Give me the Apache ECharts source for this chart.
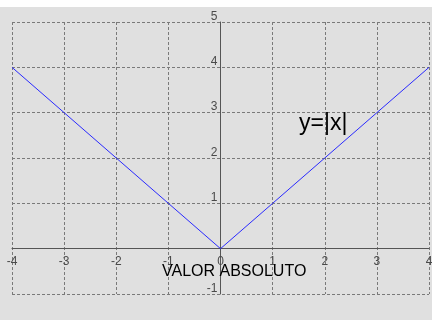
<!DOCTYPE html>
<html>
<head>
<meta charset="utf-8">
<script src="https://cdn.jsdelivr.net/npm/echarts@6/dist/echarts.min.js"></script>
<style>
html,body{margin:0;padding:0;background:#ffffff;}
#chart{position:absolute;left:0;top:7px;width:432px;height:313px;}
</style>
</head>
<body>
<div id="chart"></div>
<script>
const xValues = [-4, -3, -2, -1, 0, 1, 2, 3, 4];
const yValues = [4, 3, 2, 1, 0, 1, 2, 3, 4];
const xTicks = [-4, -3, -2, -1, 0, 1, 2, 3, 4];
const yTicks = [-1, 0, 1, 2, 3, 4, 5];
const curveLabel = 'y=|x|';
const axisTitle = 'VALOR ABSOLUTO';

const chart = echarts.init(document.getElementById('chart'), null, {renderer: 'canvas'});
const labelFont = {color: '#4a4a4a', fontSize: 12, fontFamily: 'Liberation Sans, Arial, sans-serif'};
const splitStyle = {show: true, lineStyle: {color: '#7a7a7a', type: [3, 2], width: 1}};
chart.setOption({
  animation: false,
  backgroundColor: '#e0e0e0',
  grid: {left: 12, right: 3, top: 15, bottom: 26, containLabel: false, outerBoundsMode: 'none'},
  xAxis: [{
    type: 'value',
    min: xTicks[0], max: xTicks[xTicks.length - 1], interval: 1,
    axisLine: {show: true, onZero: false, lineStyle: {color: '#555555', width: 1}},
    axisTick: {show: false},
    axisLabel: Object.assign({margin: 7, showMinLabel: true, showMaxLabel: true, hideOverlap: false}, labelFont),
    splitLine: splitStyle
  }],
  yAxis: [{
    type: 'value',
    min: yTicks[0], max: yTicks[yTicks.length - 1], interval: 1,
    axisLine: {show: true, onZero: false, lineStyle: {color: '#555555', width: 1}},
    axisTick: {show: false},
    axisLabel: Object.assign({margin: 3, verticalAlign: 'bottom', lineHeight: 11, showMinLabel: true, showMaxLabel: true, hideOverlap: false,
      formatter: v => v === 0 ? '' : String(v)}, labelFont),
    splitLine: splitStyle
  }],
  series: [{
    type: 'line',
    data: xValues.map((x, i) => [x, yValues[i]]),
    showSymbol: false,
    lineStyle: {color: '#2a2aff', width: 1},
    z: 3
  }],
  graphic: [
    {type: 'text', left: 299, top: 105, z: 10,
      style: {text: curveLabel, fill: '#000000', font: '23px "Liberation Sans", Arial, sans-serif'}},
    {type: 'text', left: 162, top: 257, z: 10,
      style: {text: axisTitle, fill: '#000000', font: '16px "Liberation Sans", Arial, sans-serif'}}
  ]
});
// Move both axes (line + labels) so they cross at the origin, using the library's own scales.
const origin = chart.convertToPixel({gridIndex: 0}, [0, 0]);
const bottomLeft = chart.convertToPixel({gridIndex: 0}, [xTicks[0], yTicks[0]]);
chart.setOption({
  xAxis: [{offset: -(bottomLeft[1] - origin[1])}],
  yAxis: [{offset: -(origin[0] - bottomLeft[0])}]
});
</script>
</body>
</html>
